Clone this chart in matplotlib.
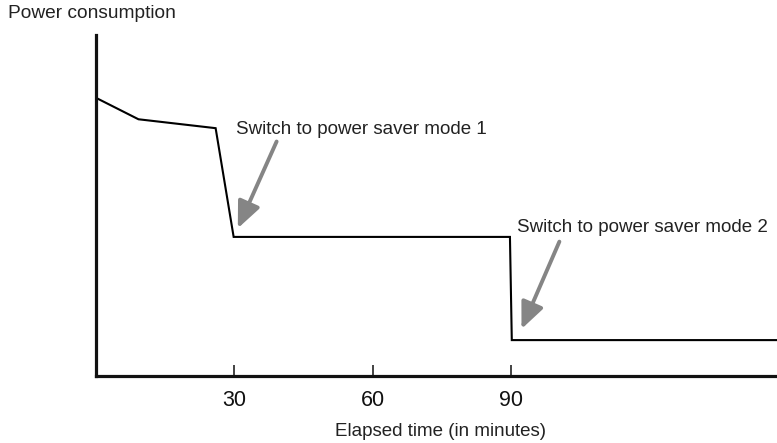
import matplotlib.pyplot as plt

# elapsed time (minutes) and relative power draw
time_min = [0, 9.3, 26.0, 29.9, 89.7, 90.1, 147.5]
power = [100, 92.2, 89.0, 49.9, 49.9, 12.8, 12.8]
tick_minutes = [30, 60, 90]

notes = ["Switch to power saver mode 1", "Switch to power saver mode 2"]
note_xy = [(30.4, 88.6), (91.2, 53.2)]
arrow_tail = [(39.2, 84.2), (100.4, 48.2)]
arrow_tip = [(30.8, 53.0), (92.2, 16.8)]

plt.rcParams['font.family'] = ['Liberation Sans', 'DejaVu Sans']

fig = plt.figure(figsize=(7.77, 4.43), dpi=100)
ax = fig.add_axes([95.5 / 777, 67.3 / 443, 1 - 95.5 / 777, 340.7 / 443])

ax.plot(time_min, power, color='black', lw=1.5, solid_joinstyle='miter')

for text, pos, tail, tip in zip(notes, note_xy, arrow_tail, arrow_tip):
    ax.text(pos[0], pos[1], text, fontsize=13.5, va='center', ha='left',
            color='#222222')
    ax.annotate('', xy=tip, xytext=tail,
                arrowprops=dict(arrowstyle='-|>,head_length=0.8,head_width=0.35',
                                color='#858585', lw=2.8, shrinkA=0, shrinkB=0,
                                mutation_scale=20))

ax.set_xlim(0, 147.5)
ax.set_ylim(0, 122.5)

for side in ['top', 'right']:
    ax.spines[side].set_visible(False)
for side in ['left', 'bottom']:
    ax.spines[side].set_linewidth(2.3)
    ax.spines[side].set_color('#111111')

ax.set_xticks(tick_minutes)
ax.set_xticklabels([str(t) for t in tick_minutes], fontsize=15.5)
ax.tick_params(axis='x', direction='in', length=8, width=1.1, pad=10,
               colors='#111111')
ax.set_yticks([])

fig.text(8 / 777, 1 - 14 / 443, 'Power consumption', fontsize=13.8,
         va='center', ha='left', color='#222222')
fig.text(440 / 777, 1 - 431 / 443, 'Elapsed time (in minutes)', fontsize=13.5,
         va='center', ha='center', color='#222222')

fig.savefig('out.png', dpi=100)
